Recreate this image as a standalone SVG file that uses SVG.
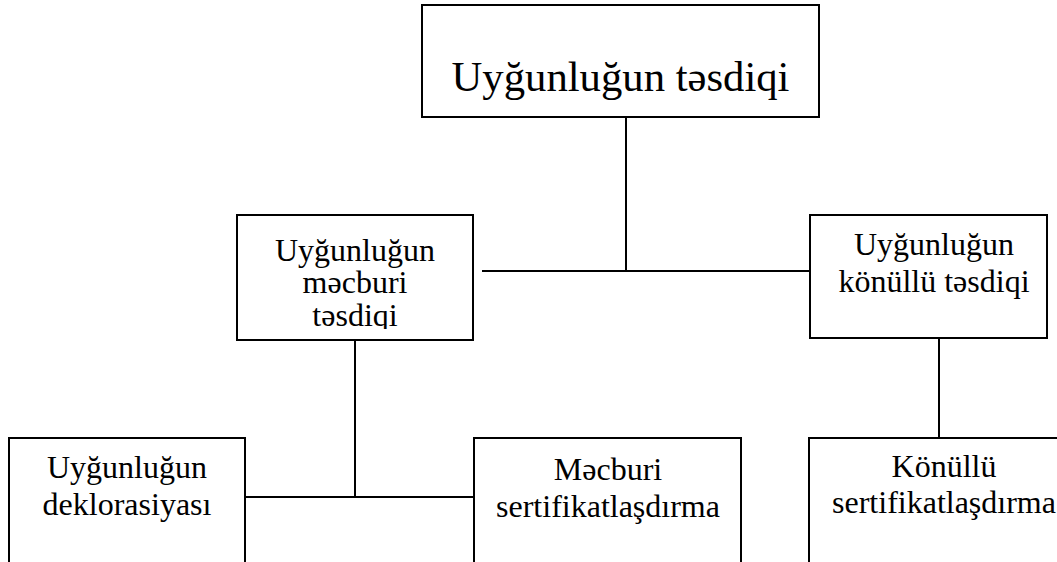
<svg xmlns="http://www.w3.org/2000/svg" width="1057" height="562" viewBox="0 0 1057 562">
<style>
.box{fill:#fff;stroke:#000;stroke-width:2}
.ln{fill:none;stroke:#000;stroke-width:2}
.t{font-family:"Liberation Serif","Times New Roman",serif;font-size:32px;fill:#000;text-anchor:middle}
.big{font-size:42.7px}
</style>
<defs>
<clipPath id="clipM"><rect x="238" y="216" width="234" height="113"/></clipPath>
</defs>
<rect width="1057" height="562" fill="#fff"/>
<g id="connectors">
<path class="ln" d="M626 117V271"/>
<path class="ln" d="M482 271H819" stroke-width="3"/>
<path class="ln" d="M355 340V497"/>
<path class="ln" d="M245 497H474"/>
<path class="ln" d="M939 338V438"/>
</g>
<g id="n-top">
<rect class="box" x="422" y="5" width="397" height="112"/>
<text class="t big" x="620.5" y="91">Uyğunluğun təsdiqi</text>
</g>
<g id="n-mandatory">
<rect class="box" x="237" y="215" width="236" height="125"/>
<g clip-path="url(#clipM)">
<text class="t" x="355" y="261">Uyğunluğun</text>
<text class="t" x="355" y="293">məcburi</text>
<text class="t" x="355" y="326">təsdiqi</text>
</g>
</g>
<g id="n-voluntary">
<rect class="box" x="810" y="215" width="237" height="123"/>
<text class="t" x="934" y="255">Uyğunluğun</text>
<text class="t" x="934" y="292">könüllü təsdiqi</text>
</g>
<g id="n-declaration">
<rect class="box" x="9" y="438" width="236" height="140"/>
<text class="t" x="127" y="478">Uyğunluğun</text>
<text class="t" x="127" y="515">deklorasiyası</text>
</g>
<g id="n-mand-cert">
<rect class="box" x="474" y="438" width="267" height="140"/>
<text class="t" x="608" y="480">Məcburi</text>
<text class="t" x="608" y="517">sertifikatlaşdırma</text>
</g>
<g id="n-vol-cert">
<rect class="box" x="809" y="438" width="260" height="140"/>
<text class="t" x="944" y="477">Könüllü</text>
<text class="t" x="944" y="513">sertifikatlaşdırma</text>
</g>
</svg>
